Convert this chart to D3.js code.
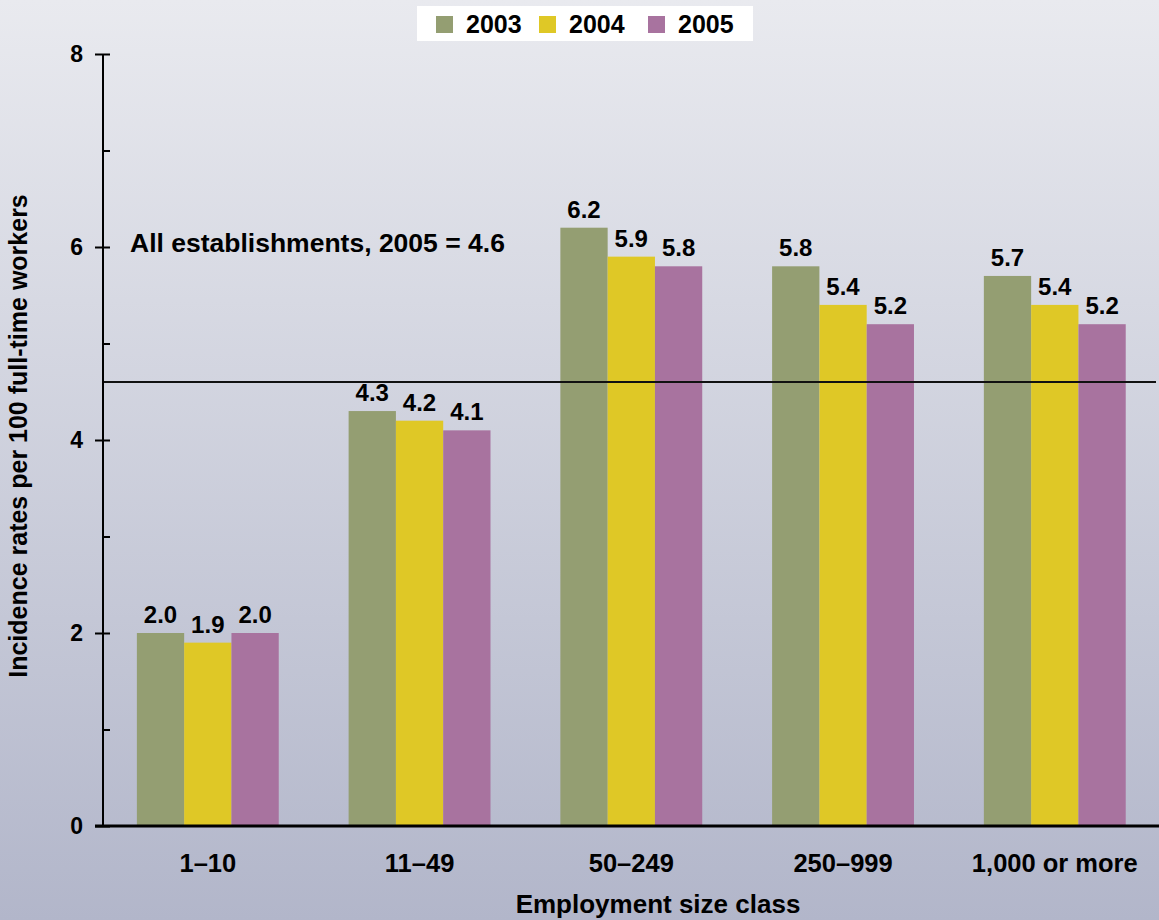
<!DOCTYPE html>
<html>
<head>
<meta charset="utf-8">
<script src="https://cdn.jsdelivr.net/npm/d3@7"></script>
<style>
  body { margin: 0; }
  svg { display: block; font-family: "Liberation Sans", Arial, sans-serif; font-weight: bold; }
</style>
</head>
<body>
<div class="demo"></div>
<script>
const w = 1159, h = 920;

const categories = ['1\u201310', '11\u201349', '50\u2013249', '250\u2013999', '1,000 or more'];
const years = ['2003', '2004', '2005'];
const values2003 = [2.0, 4.3, 6.2, 5.8, 5.7];
const values2004 = [1.9, 4.2, 5.9, 5.4, 5.4];
const values2005 = [2.0, 4.1, 5.8, 5.2, 5.2];
const colors = ['#949e72', '#dfc826', '#a8739f'];
const yTicks = [0, 2, 4, 6, 8];
const allEstablishments = 4.6;

const series = [values2003, values2004, values2005];

const axisX = 103, y0 = 826, y8 = 54;

let svg = d3.select('.demo').append('svg').attr('width', w).attr('height', h);

// background gradient
let grad = svg.append('defs').append('linearGradient')
    .attr('id', 'bg').attr('x1', 0).attr('y1', 0).attr('x2', 0).attr('y2', 1);
grad.append('stop').attr('offset', '0%').attr('stop-color', '#e9eaef');
grad.append('stop').attr('offset', '100%').attr('stop-color', '#b2b6ca');
svg.append('rect').attr('width', w).attr('height', h).attr('fill', 'url(#bg)');

let yScale = d3.scaleLinear().domain([0, 8]).range([y0, y8]);
let xScale = d3.scaleBand().domain(categories).range([67, 1195.6]).padding(0.33);
let xInner = d3.scaleBand().domain(years).range([0, xScale.bandwidth()]);

// bars
let groups = svg.selectAll('g.cat').data(categories).enter()
    .append('g').attr('class', 'cat')
    .attr('transform', d => 'translate(' + xScale(d) + ',0)');

groups.selectAll('rect')
    .data((d, i) => years.map((yr, j) => ({yr: yr, v: series[j][i], j: j})))
    .enter().append('rect')
    .attr('x', d => xInner(d.yr))
    .attr('y', d => yScale(d.v))
    .attr('width', xInner.bandwidth())
    .attr('height', d => y0 - yScale(d.v))
    .attr('fill', d => colors[d.j]);

groups.selectAll('text')
    .data((d, i) => years.map((yr, j) => ({yr: yr, v: series[j][i], j: j})))
    .enter().append('text')
    .attr('x', d => xInner(d.yr) + xInner.bandwidth() / 2)
    .attr('y', d => yScale(d.v) - 10)
    .attr('text-anchor', 'middle')
    .attr('font-size', '24px')
    .text(d => d.v.toFixed(1));

// reference line
svg.append('line')
    .attr('x1', axisX).attr('x2', 1156)
    .attr('y1', yScale(allEstablishments)).attr('y2', yScale(allEstablishments))
    .attr('stroke', '#111').attr('stroke-width', 2);

svg.append('text')
    .attr('x', 130).attr('y', 252)
    .attr('font-size', '26.5px')
    .text('All establishments, 2005 = ' + allEstablishments);

// y axis
let yAxis = d3.axisLeft(yScale).tickValues(yTicks).tickSize(8).tickPadding(12).tickFormat(d3.format('d'));
let gy = svg.append('g').attr('transform', 'translate(' + axisX + ',0)').call(yAxis);
gy.select('.domain').remove();
gy.selectAll('.tick line').attr('x2', 7).attr('x1', -8).attr('stroke-width', 2);
gy.selectAll('.tick text').attr('font-size', '23px').attr('font-family', null).attr('fill', '#000');
let yMinor = d3.axisRight(yScale).tickValues([1, 3, 5, 7]).tickSize(7).tickFormat('');
let gm = svg.append('g').attr('transform', 'translate(' + axisX + ',0)').call(yMinor);
gm.select('.domain').remove();
gm.selectAll('.tick line').attr('stroke-width', 2);
svg.append('line').attr('x1', axisX).attr('x2', axisX).attr('y1', y8).attr('y2', y0)
    .attr('stroke', '#000').attr('stroke-width', 2);

// x axis
let xAxis = d3.axisBottom(xScale).tickSize(0).tickPadding(28);
let gx = svg.append('g').attr('transform', 'translate(0,' + y0 + ')').call(xAxis);
gx.select('.domain').remove();
gx.selectAll('.tick text').attr('font-size', '25.5px').attr('font-family', null).attr('fill', '#000');
svg.append('line').attr('x1', 95).attr('x2', w).attr('y1', y0).attr('y2', y0)
    .attr('stroke', '#000').attr('stroke-width', 3);

// axis titles
svg.append('text')
    .attr('x', 658).attr('y', 913)
    .attr('text-anchor', 'middle').attr('font-size', '26px')
    .text('Employment size class');
svg.append('text')
    .attr('transform', 'translate(27,436) rotate(-90)')
    .attr('text-anchor', 'middle').attr('font-size', '25px')
    .text('Incidence rates per 100 full-time workers');

// legend
let legend = svg.append('g');
legend.append('rect').attr('x', 417).attr('y', 6).attr('width', 336).attr('height', 35).attr('fill', '#fff');
const legendX = [436, 539, 648];
years.forEach((yr, j) => {
    legend.append('rect').attr('x', legendX[j]).attr('y', 16).attr('width', 17).attr('height', 17).attr('fill', colors[j]);
    legend.append('text').attr('x', legendX[j] + 30).attr('y', 33).attr('font-size', '25px').text(yr);
});
</script>
</body>
</html>
